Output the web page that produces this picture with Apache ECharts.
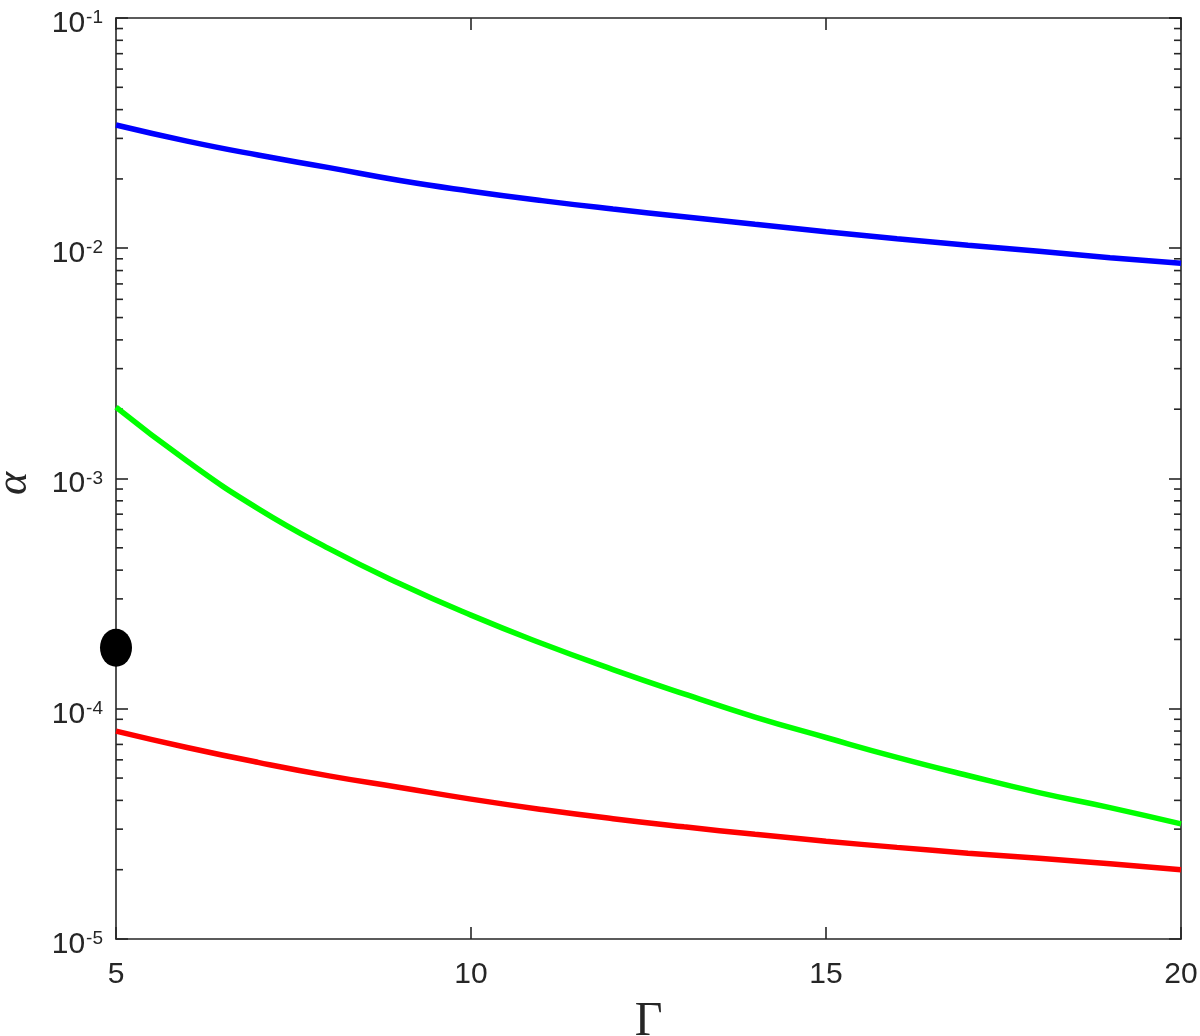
<!DOCTYPE html>
<html>
<head>
<meta charset="utf-8">
<script src="https://cdn.jsdelivr.net/npm/echarts@6/dist/echarts.min.js"></script>
<style>
  html, body { margin: 0; padding: 0; background: #fff; }
  #chart { width: 1200px; height: 1036px; }
</style>
</head>
<body>
<div id="chart"></div>
<script>
// ---- data ----
const gamma = [5, 6, 7, 8, 9, 10, 11, 12, 13, 14, 15, 16, 17, 18, 19, 20];
const blueAlpha = [0.0343, 0.0292, 0.0254, 0.0224, 0.0197, 0.0177, 0.0161, 0.0148, 0.0137, 0.0127, 0.0118, 0.0110, 0.0103, 0.0097, 0.0091, 0.0086];
const greenAlpha = [2.04e-3, 1.19e-3, 7.40e-4, 4.96e-4, 3.49e-4, 2.55e-4, 1.92e-4, 1.48e-4, 1.16e-4, 9.20e-5, 7.50e-5, 6.15e-5, 5.13e-5, 4.32e-5, 3.72e-5, 3.16e-5];
const redAlpha = [8.0e-5, 6.79e-5, 5.85e-5, 5.11e-5, 4.55e-5, 4.05e-5, 3.65e-5, 3.33e-5, 3.07e-5, 2.85e-5, 2.66e-5, 2.50e-5, 2.36e-5, 2.24e-5, 2.12e-5, 2.0e-5];
const dotPoint = [5, 1.84e-4];
const xTicks = [5, 10, 15, 20];
const yMajorTicks = [1e-5, 1e-4, 1e-3, 1e-2, 1e-1];
const yMinorTicks = [
  2e-5, 3e-5, 4e-5, 5e-5, 6e-5, 7e-5, 8e-5, 9e-5,
  2e-4, 3e-4, 4e-4, 5e-4, 6e-4, 7e-4, 8e-4, 9e-4,
  2e-3, 3e-3, 4e-3, 5e-3, 6e-3, 7e-3, 8e-3, 9e-3,
  2e-2, 3e-2, 4e-2, 5e-2, 6e-2, 7e-2, 8e-2, 9e-2
];

const axisColor = '#262626';
const chart = echarts.init(document.getElementById('chart'), null, { renderer: 'canvas' });

function pairs(ys) { return gamma.map((g, i) => [g, ys[i]]); }

const commonAxisLine = { show: true, lineStyle: { color: axisColor, width: 1.6 } };
const tickStyle = { show: true, inside: true, length: 12, lineStyle: { color: axisColor, width: 1.6 } };

const option = {
  backgroundColor: '#ffffff',
  animation: false,
  grid: { left: 116, top: 18, right: 19, bottom: 97, containLabel: false, outerBoundsMode: 'none' },
  xAxis: [
    {
      type: 'value', min: xTicks[0], max: xTicks[xTicks.length - 1], interval: 5,
      position: 'bottom',
      name: 'Γ', nameLocation: 'middle', nameGap: 59,
      nameTextStyle: { fontFamily: 'Liberation Serif', fontSize: 48, color: axisColor },
      axisLine: commonAxisLine,
      axisTick: tickStyle,
      axisLabel: { show: true, margin: 21, fontFamily: 'Liberation Sans', fontSize: 30, color: axisColor },
      splitLine: { show: false }
    },
    {
      type: 'value', min: xTicks[0], max: xTicks[xTicks.length - 1], interval: 5,
      position: 'top',
      axisLine: commonAxisLine,
      axisTick: tickStyle,
      axisLabel: { show: false },
      splitLine: { show: false }
    }
  ],
  yAxis: [
    {
      type: 'log', logBase: 10, min: yMajorTicks[0], max: yMajorTicks[yMajorTicks.length - 1],
      position: 'left',
      name: 'α', nameLocation: 'middle', nameGap: 80, nameRotate: 90,
      nameTextStyle: { fontFamily: 'Liberation Serif', fontStyle: 'italic', fontSize: 44, color: axisColor, padding: [0, 10, 0, 0] },
      axisLine: commonAxisLine,
      axisTick: tickStyle,
      axisLabel: {
        show: true, margin: 13, padding: [11, 0, 0, 0],
        formatter: function (v) {
          const e = Math.round(Math.log10(v));
          return '{b|10}{e|' + e + '}';
        },
        rich: {
          b: { fontFamily: 'Liberation Sans', fontSize: 30, lineHeight: 30, color: axisColor, verticalAlign: 'bottom' },
          e: { fontFamily: 'Liberation Sans', fontSize: 19, lineHeight: 19, color: axisColor, verticalAlign: 'top', padding: [0, 0, 0, 1] }
        }
      },
      splitLine: { show: false },
      minorTick: { show: false }
    },
    {
      type: 'log', logBase: 10, min: yMajorTicks[0], max: yMajorTicks[yMajorTicks.length - 1],
      position: 'right',
      axisLine: commonAxisLine,
      axisTick: tickStyle,
      axisLabel: { show: false },
      splitLine: { show: false }
    }
  ],
  series: [
    {
      name: 'minor ticks', type: 'custom', xAxisIndex: 0, yAxisIndex: 0,
      silent: true, clip: false, z: 3,
      encode: { y: 0 },
      data: yMinorTicks.map(v => [v]),
      renderItem: function (params, api) {
        const y = api.coord([xTicks[0], api.value(0)])[1];
        const cs = params.coordSys;
        const len = 7;
        return {
          type: 'group',
          children: [
            { type: 'line', shape: { x1: cs.x, y1: y, x2: cs.x + len, y2: y }, style: { stroke: axisColor, lineWidth: 1.6 } },
            { type: 'line', shape: { x1: cs.x + cs.width, y1: y, x2: cs.x + cs.width - len, y2: y }, style: { stroke: axisColor, lineWidth: 1.6 } }
          ]
        };
      }
    },
    {
      name: 'blue', type: 'line', data: pairs(blueAlpha), showSymbol: false,
      smooth: 0.5, clip: false,
      lineStyle: { color: '#0000ff', width: 5.5 }, itemStyle: { color: '#0000ff' }, z: 5
    },
    {
      name: 'green', type: 'line', data: pairs(greenAlpha), showSymbol: false,
      smooth: 0.5, clip: false,
      lineStyle: { color: '#00ff00', width: 5.5 }, itemStyle: { color: '#00ff00' }, z: 5
    },
    {
      name: 'red', type: 'line', data: pairs(redAlpha), showSymbol: false,
      smooth: 0.5, clip: false,
      lineStyle: { color: '#ff0000', width: 5.5 }, itemStyle: { color: '#ff0000' }, z: 5
    },
    {
      name: 'point', type: 'scatter', data: [dotPoint], symbol: 'circle', symbolSize: [32, 38],
      clip: false, itemStyle: { color: '#000000', opacity: 1 }, z: 6
    }
  ]
};
chart.setOption(option);
</script>
</body>
</html>
